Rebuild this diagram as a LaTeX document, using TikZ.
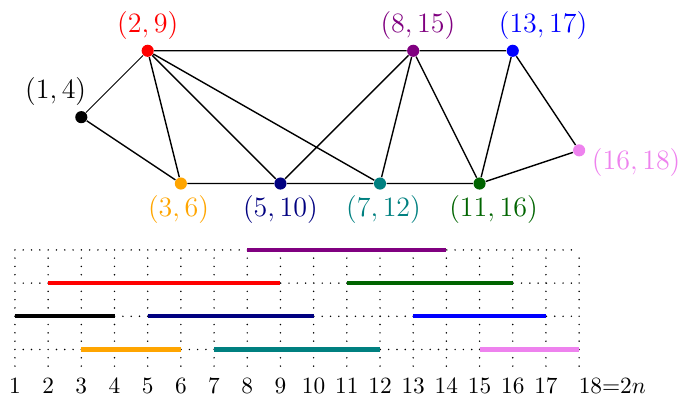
\documentclass[tikz,border=0pt]{standalone}
\definecolor{vpurple}{HTML}{800080}
\definecolor{vorange}{HTML}{FFA500}
\definecolor{vnavy}{HTML}{000080}
\definecolor{vteal}{HTML}{008080}
\definecolor{vgreen}{HTML}{006400}
\definecolor{vpink}{HTML}{EE82EE}
\begin{document}
\begin{tikzpicture}[x=0.5cm,y=0.5cm,label distance=1pt,
    vtx/.style={circle,fill,inner sep=0pt,minimum size=5.2pt},
    lbl/.style={inner sep=1pt,font=\large},
    edge/.style={semithick},
    bar/.style={line width=1.8pt},
    dots/.style={line width=0.7pt,line cap=round,dash pattern=on 0pt off 3.56pt}]
    \path[use as bounding box] (0.55,-1.40) rectangle (21.13,10.53);

    % Graph
    \node[vtx,black,label={[lbl,text=black,xshift=-11pt]above:$(1,4)$}] (v14) at (3,7) {};
    \node[vtx,red,label={[lbl,text=red]above:$(2,9)$}] (v29) at (5,9) {};
    \node[vtx,vorange,label={[lbl,text=vorange,xshift=-1pt]below:$(3,6)$}] (v36) at (6,5) {};
    \node[vtx,vnavy,label={[lbl,text=vnavy]below:$(5,10)$}] (v510) at (9,5) {};
    \node[vtx,vteal,label={[lbl,text=vteal,xshift=1.5pt]below:$(7,12)$}] (v712) at (12,5) {};
    \node[vtx,vpurple,label={[lbl,text=vpurple,xshift=2pt]above:$(8,15)$}] (v815) at (13,9) {};
    \node[vtx,vgreen,label={[lbl,text=vgreen,xshift=6pt]below:$(11,16)$}] (v1116) at (15,5) {};
    \node[vtx,blue,label={[lbl,text=blue,xshift=13pt]above:$(13,17)$}] (v1317) at (16,9) {};
    \node[vtx,vpink,label={[lbl,text=vpink,xshift=0.5pt,yshift=-5pt]right:$(16,18)$}] (v1618) at (18,6) {};

    \draw[thin] (v14) -- (v29);
    \draw[edge] (v14) -- (v36) (v29) -- (v36) (v29) -- (v510) (v29) -- (v712)
        (v29) -- (v815) (v36) -- (v510) (v510) -- (v712) (v712) -- (v1116)
        (v510) -- (v815) (v712) -- (v815) (v815) -- (v1116) (v815) -- (v1317)
        (v1317) -- (v1116) (v1317) -- (v1618) (v1116) -- (v1618);

    % Intervals
    \draw[dots,step=0.5cm] (1,-0.5) grid (18,3);
    \draw[bar,vpurple] (8,3) -- (14,3);
    \draw[bar,red] (2,2) -- (9,2);
    \draw[bar,vgreen] (11,2) -- (16,2);
    \draw[bar,black] (1,1) -- (4,1);
    \draw[bar,vnavy] (5,1) -- (10,1);
    \draw[bar,blue] (13,1) -- (17,1);
    \draw[bar,vorange] (3,0) -- (6,0);
    \draw[bar,vteal] (7,0) -- (12,0);
    \draw[bar,vpink] (15,0) -- (18,0);

    % Endpoints
    \foreach \i in {1,...,17}
        \node[anchor=base] (n\i) at (\i,-1.32) {\i};
    \node[anchor=base] (n18) at (19,-1.32) {18=2$n$};
  \end{tikzpicture}
\end{document}
